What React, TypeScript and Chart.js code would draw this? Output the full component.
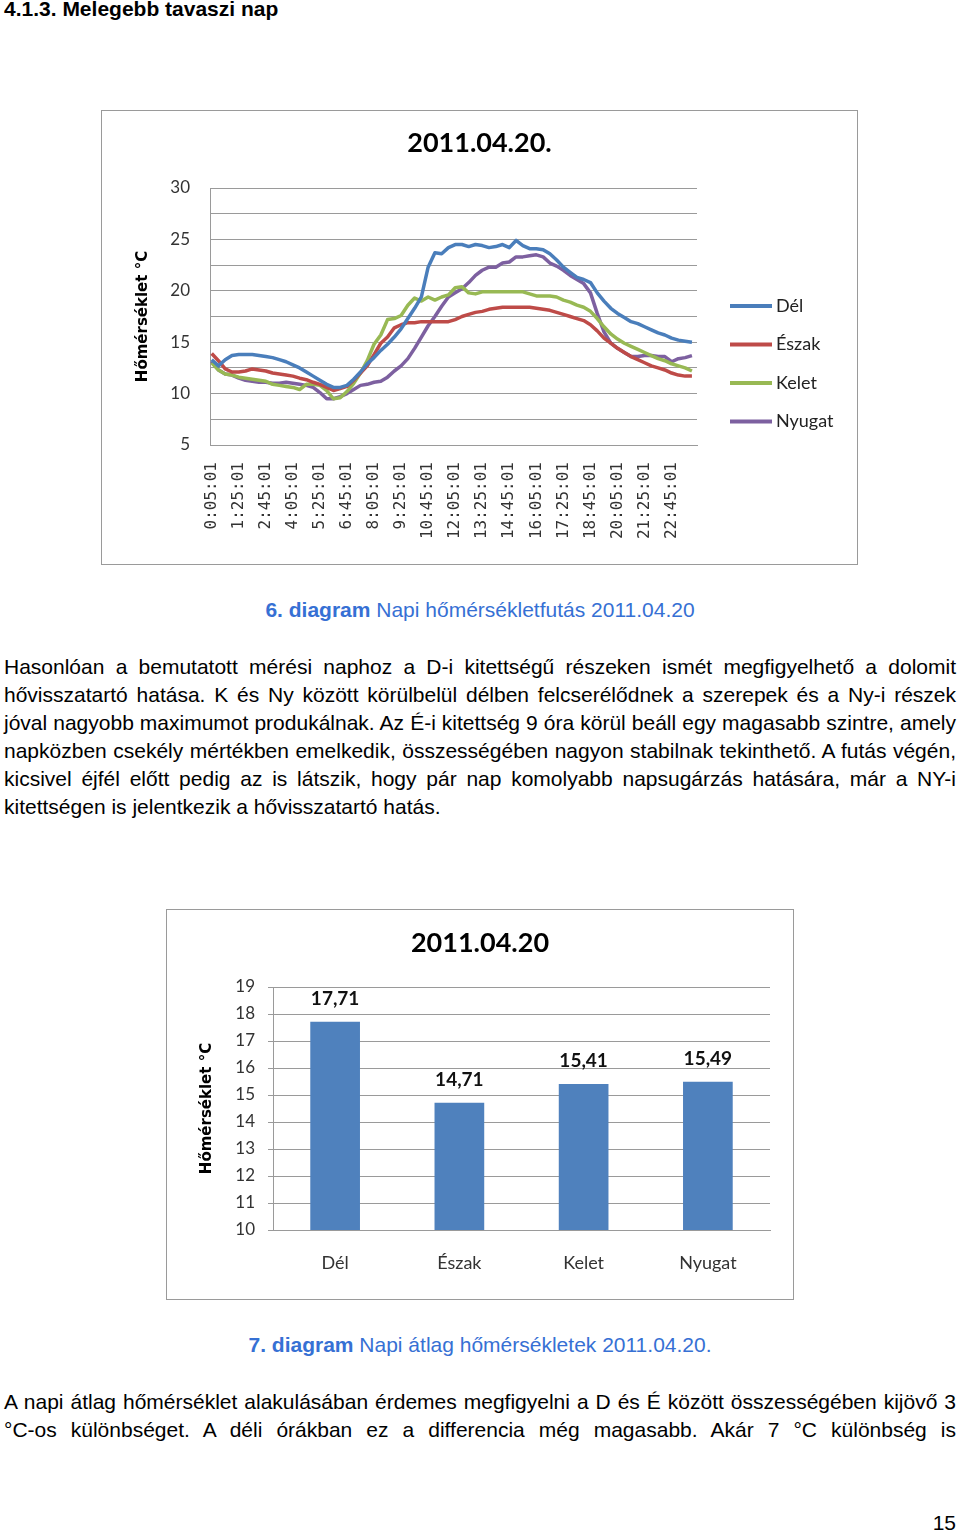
import React, { useEffect, useRef } from 'react';
import { Chart, registerables } from 'chart.js';

Chart.register(...registerables);

// ---------- 6. diagram: daily temperature run ----------
const lineSeriesNames = ['Dél', 'Észak', 'Kelet', 'Nyugat'];
const lineColors = ['#4A7EBB', '#BE4B48', '#98B954', '#7D60A0'];
const sampleStartMinute = 5;
const sampleStepMinutes = 20;

const delValues = [
  13.3, 12.7, 13.3, 13.7, 13.8, 13.8, 13.8, 13.7, 13.6, 13.5,
  13.3, 13.1, 12.8, 12.5, 12.1, 11.7, 11.3, 10.9, 10.6, 10.6,
  10.8, 11.4, 12.1, 12.9, 13.5, 14.2, 14.8, 15.5, 16.3, 17.3,
  18.3, 19.4, 22.3, 23.7, 23.6, 24.2, 24.5, 24.5, 24.3, 24.5,
  24.4, 24.2, 24.3, 24.5, 24.2, 24.9, 24.4, 24.1, 24.1, 24.0,
  23.6, 23.0, 22.3, 21.8, 21.3, 21.1, 20.8, 19.8, 19.0, 18.3,
  17.8, 17.4, 17.0, 16.8, 16.5, 16.2, 15.9, 15.7, 15.4, 15.2,
  15.1, 15.0,
];
const eszakValues = [
  13.9, 13.2, 12.4, 12.1, 12.1, 12.2, 12.4, 12.3, 12.2, 12.0,
  11.9, 11.8, 11.7, 11.5, 11.35, 11.1, 10.9, 10.6, 10.3, 10.5,
  10.7, 11.3, 12.0, 12.7, 13.8, 14.9, 15.5, 16.4, 16.7, 16.9,
  16.9, 17.0, 17.0, 17.0, 17.0, 17.0, 17.2, 17.5, 17.7, 17.9,
  18.0, 18.2, 18.3, 18.4, 18.4, 18.4, 18.4, 18.4, 18.3, 18.2,
  18.1, 17.9, 17.7, 17.5, 17.3, 17.1, 16.7, 16.1, 15.4, 14.9,
  14.4, 14.0, 13.6, 13.3, 13.0, 12.7, 12.5, 12.3, 12.0, 11.8,
  11.7, 11.7,
];
const keletValues = [
  13.0, 12.3, 11.9, 11.8, 11.6, 11.5, 11.4, 11.3, 11.2, 10.9,
  10.8, 10.7, 10.6, 10.4, 10.9, 10.9, 10.8, 10.3, 9.5, 9.6,
  10.2, 11.0, 12.0, 13.2, 14.8, 15.7, 17.2, 17.3, 17.6, 18.6,
  19.3, 19.0, 19.4, 19.1, 19.4, 19.6, 20.3, 20.4, 19.8, 19.7,
  19.9, 19.9, 19.9, 19.9, 19.9, 19.9, 19.9, 19.7, 19.5, 19.5,
  19.5, 19.4, 19.1, 18.9, 18.6, 18.4, 18.0, 17.3, 16.5, 15.8,
  15.3, 14.9, 14.6, 14.3, 14.0, 13.7, 13.4, 13.2, 12.9, 12.7,
  12.5, 12.2,
];
const nyugatValues = [
  13.1, 12.3, 11.9, 11.8, 11.5, 11.3, 11.2, 11.1, 11.1, 11.0,
  11.0, 11.1, 11.0, 10.9, 10.8, 10.6, 10.1, 9.5, 9.5, 9.7,
  10.0, 10.4, 10.8, 10.9, 11.1, 11.2, 11.6, 12.2, 12.7, 13.4,
  14.4, 15.5, 16.6, 17.5, 18.5, 19.4, 19.8, 20.2, 20.8, 21.5,
  22.0, 22.3, 22.3, 22.7, 22.8, 23.3, 23.3, 23.4, 23.5, 23.3,
  22.7, 22.4, 22.0, 21.5, 21.1, 20.7, 19.8, 17.8, 16.0, 14.9,
  14.4, 14.0, 13.6, 13.6, 13.7, 13.7, 13.6, 13.6, 13.1, 13.4,
  13.5, 13.7,
];
const lineSeriesValues = [delValues, eszakValues, keletValues, nyugatValues];

const xTickLabels = [
  '0:05:01', '1:25:01', '2:45:01', '4:05:01', '5:25:01', '6:45:01',
  '8:05:01', '9:25:01', '10:45:01', '12:05:01', '13:25:01', '14:45:01',
  '16:05:01', '17:25:01', '18:45:01', '20:05:01', '21:25:01', '22:45:01',
];
const yLineTickStep = 2.5;
const yLineLabelStep = 5;

// ---------- 7. diagram: daily averages ----------
const barCategories = ['Dél', 'Észak', 'Kelet', 'Nyugat'];
const barValues = [17.71, 14.71, 15.41, 15.49];
const barColor = '#4F81BD';

// ---------- page text ----------
const headingText = '4.1.3. Melegebb tavaszi nap';
const caption1Bold = '6. diagram';
const caption1Rest = ' Napi hőmérsékletfutás 2011.04.20';
const para1Lines = [
  'Hasonlóan a bemutatott mérési naphoz a D-i kitettségű részeken ismét megfigyelhető a dolomit',
  'hővisszatartó hatása. K és Ny között körülbelül délben felcserélődnek a szerepek és a Ny-i részek',
  'jóval nagyobb maximumot produkálnak. Az É-i kitettség 9 óra körül beáll egy magasabb szintre, amely',
  'napközben csekély mértékben emelkedik, összességében nagyon stabilnak tekinthető. A futás végén,',
  'kicsivel éjfél előtt pedig az is látszik, hogy pár nap komolyabb napsugárzás hatására, már a NY-i',
  'kitettségen is jelentkezik a hővisszatartó hatás.',
];
const caption2Bold = '7. diagram';
const caption2Rest = ' Napi átlag hőmérsékletek 2011.04.20.';
const para2Lines = [
  'A napi átlag hőmérséklet alakulásában érdemes megfigyelni a D és É között összességében kijövő 3',
  '°C-os különbséget. A déli órákban ez a differencia még magasabb. Akár 7 °C különbség is',
];
const pageNumber = '15';

const toMinutes = (label: string) => {
  const [h, m] = label.split(':').map(Number);
  return h * 60 + m;
};
const xTickMinutes = xTickLabels.map(toMinutes);

const GRID = '#9a9a9a';
const TEXT = '#333333';

const lineLegendPlugin = {
  id: 'lineLegend',
  afterDraw(chart: any) {
    const { ctx, chartArea } = chart;
    chart.data.datasets.forEach((ds: any, i: number) => {
      const y = chartArea.top + 118 + i * 38.5;
      const x0 = chartArea.right + 33;
      ctx.save();
      ctx.strokeStyle = ds.borderColor;
      ctx.lineWidth = 4;
      ctx.lineCap = 'butt';
      ctx.beginPath();
      ctx.moveTo(x0, y);
      ctx.lineTo(x0 + 42, y);
      ctx.stroke();
      ctx.fillStyle = '#222';
      ctx.font = '18px Lato';
      ctx.textBaseline = 'middle';
      ctx.textAlign = 'left';
      ctx.fillText(ds.label, x0 + 46, y);
      ctx.restore();
    });
  },
};

const barLabelPlugin = {
  id: 'barLabels',
  afterDatasetsDraw(chart: any) {
    const { ctx } = chart;
    const meta = chart.getDatasetMeta(0);
    const values = chart.data.datasets[0].data;
    ctx.save();
    ctx.fillStyle = '#111';
    ctx.font = 'bold 19px Lato';
    ctx.textAlign = 'center';
    ctx.textBaseline = 'middle';
    meta.data.forEach((bar: any, i: number) => {
      ctx.fillText(Number(values[i]).toFixed(2).replace('.', ','), bar.x, bar.y - 23);
    });
    ctx.restore();
  },
};

// an empty right-hand axis that only reserves room (for the legend) without shifting the title
const spacerAxis = (w: number) => ({
  type: 'linear',
  position: 'right',
  display: true,
  grid: { display: false, drawTicks: false },
  border: { display: false },
  ticks: { display: false },
  afterFit: (s: any) => {
    s.width = w;
  },
});

function LineChart() {
  const ref = useRef<HTMLCanvasElement>(null);
  useEffect(() => {
    if (!ref.current) return;
    const chart = new Chart(ref.current, {
      type: 'line',
      data: {
        datasets: lineSeriesNames.map((name, k) => ({
          label: name,
          data: lineSeriesValues[k].map((v, i) => ({ x: sampleStartMinute + i * sampleStepMinutes, y: v })),
          borderColor: lineColors[k],
          backgroundColor: lineColors[k],
          borderWidth: 3.5,
          pointRadius: 0,
          tension: 0,
          borderJoinStyle: 'round',
          fill: false,
          yAxisID: 'y',
        })),
      },
      options: {
        responsive: false,
        animation: false,
        layout: { padding: 0 },
        plugins: {
          legend: { display: false },
          tooltip: { enabled: false },
          title: {
            display: true,
            text: '2011.04.20.',
            color: '#000',
            font: { family: 'Lato', size: 27, weight: 'bold' },
            padding: { top: 16, bottom: 28.6 },
          },
        },
        scales: {
          x: {
            type: 'linear',
            min: 0,
            max: 1440,
            afterBuildTicks: (s: any) => {
              s.ticks = xTickMinutes.map((v) => ({ value: v }));
            },
            afterFit: (s: any) => {
              s.height = 119;
            },
            grid: { display: false, drawTicks: false },
            border: { display: true, color: GRID },
            ticks: {
              autoSkip: false,
              minRotation: 90,
              maxRotation: 90,
              padding: 17,
              color: TEXT,
              font: { family: 'DejaVu Sans Mono', size: 16 },
              callback: (_v: any, i: number) => xTickLabels[i],
            },
          },
          y: {
            min: 5,
            max: 30,
            afterFit: (s: any) => {
              s.width = 108;
            },
            grid: { color: GRID, drawTicks: false },
            border: { display: true, color: GRID },
            ticks: {
              stepSize: yLineTickStep,
              padding: 20,
              color: TEXT,
              font: { family: 'Lato', size: 17 },
              callback: (v: any) => (Number(v) % yLineLabelStep === 0 ? String(v) : ''),
            },
            title: {
              display: true,
              text: 'Hőmérséklet °C',
              color: '#000',
              font: { family: 'DejaVu Sans', size: 15, weight: 'bold' },
              padding: { top: 32, bottom: 0 },
            },
          },
          legendSpace: spacerAxis(160),
        },
      },
      plugins: [lineLegendPlugin],
    } as any);
    return () => chart.destroy();
  }, []);
  return <canvas ref={ref} width={755} height={453} style={{ display: 'block' }} />;
}

function BarChart() {
  const ref = useRef<HTMLCanvasElement>(null);
  useEffect(() => {
    if (!ref.current) return;
    const chart = new Chart(ref.current, {
      type: 'bar',
      data: {
        labels: barCategories,
        datasets: [
          {
            label: 'Átlag',
            data: barValues,
            backgroundColor: barColor,
            borderWidth: 0,
            barPercentage: 0.4,
            categoryPercentage: 1,
            yAxisID: 'y',
          },
        ],
      },
      options: {
        responsive: false,
        animation: false,
        layout: { padding: 0 },
        plugins: {
          legend: { display: false },
          tooltip: { enabled: false },
          title: {
            display: true,
            text: '2011.04.20',
            color: '#000',
            font: { family: 'Lato', size: 27, weight: 'bold' },
            padding: { top: 16.8, bottom: 27.8 },
          },
        },
        scales: {
          x: {
            afterFit: (s: any) => {
              s.height = 69;
            },
            grid: { display: false, drawTicks: false },
            border: { display: true, color: GRID },
            ticks: {
              padding: 22,
              color: TEXT,
              font: { family: 'Lato', size: 18 },
            },
          },
          y: {
            min: 10,
            max: 19,
            afterFit: (s: any) => {
              s.width = 106;
            },
            grid: { color: GRID, drawTicks: true, tickLength: 5 },
            border: { display: true, color: GRID },
            ticks: {
              stepSize: 1,
              padding: 13,
              color: TEXT,
              font: { family: 'Lato', size: 17 },
            },
            title: {
              display: true,
              text: 'Hőmérséklet °C',
              color: '#000',
              font: { family: 'DejaVu Sans', size: 15, weight: 'bold' },
              padding: { top: 31, bottom: 0 },
            },
          },
          rightSpace: spacerAxis(23),
        },
      },
      plugins: [barLabelPlugin],
    } as any);
    return () => chart.destroy();
  }, []);
  return <canvas ref={ref} width={626} height={389} style={{ display: 'block' }} />;
}

const FONT = '"Liberation Sans", Arial, sans-serif';
const CAPTION = '#3670d4';

function TextLine({ text, center, last }: { text: string; center: number; last?: boolean }) {
  return (
    <div
      style={{
        position: 'absolute',
        left: 4,
        width: 952,
        top: center - 12,
        height: 24,
        lineHeight: '24px',
        fontSize: 21,
        fontFamily: FONT,
        color: '#000',
        whiteSpace: 'nowrap',
        textAlign: last ? 'left' : 'justify',
        textAlignLast: last ? 'left' : 'justify',
      } as React.CSSProperties}
    >
      {text}
    </div>
  );
}

export default function App() {
  const para1Centers = [667, 695, 723, 751, 779, 807];
  const para2Centers = [1402, 1430];
  return (
    <div
      style={{
        position: 'absolute',
        left: 0,
        top: 0,
        width: 960,
        height: 1533,
        background: '#fff',
        overflow: 'hidden',
      }}
    >
      <div
        style={{
          position: 'absolute',
          left: 4,
          top: -3,
          lineHeight: '24px',
          fontSize: 21,
          fontWeight: 'bold',
          fontFamily: FONT,
          color: '#000',
          whiteSpace: 'nowrap',
        }}
      >
        {headingText}
      </div>

      <div
        style={{
          position: 'absolute',
          left: 101,
          top: 110,
          width: 757,
          height: 455,
          boxSizing: 'border-box',
          border: '1px solid #9a9a9a',
          background: '#fff',
        }}
      >
        <LineChart />
      </div>

      <div
        style={{
          position: 'absolute',
          left: 0,
          width: 960,
          top: 598,
          lineHeight: '24px',
          fontSize: 21,
          fontFamily: FONT,
          color: CAPTION,
          textAlign: 'center',
          whiteSpace: 'nowrap',
        }}
      >
        <b>{caption1Bold}</b>
        {caption1Rest}
      </div>

      {para1Lines.map((t, i) => (
        <TextLine key={'p1' + i} text={t} center={para1Centers[i]} last={i === para1Lines.length - 1} />
      ))}

      <div
        style={{
          position: 'absolute',
          left: 166,
          top: 909,
          width: 628,
          height: 391,
          boxSizing: 'border-box',
          border: '1px solid #9a9a9a',
          background: '#fff',
        }}
      >
        <BarChart />
      </div>

      <div
        style={{
          position: 'absolute',
          left: 0,
          width: 960,
          top: 1333,
          lineHeight: '24px',
          fontSize: 21,
          fontFamily: FONT,
          color: CAPTION,
          textAlign: 'center',
          whiteSpace: 'nowrap',
        }}
      >
        <b>{caption2Bold}</b>
        {caption2Rest}
      </div>

      {para2Lines.map((t, i) => (
        <TextLine key={'p2' + i} text={t} center={para2Centers[i]} />
      ))}

      <div
        style={{
          position: 'absolute',
          right: 4,
          top: 1511,
          lineHeight: '24px',
          fontSize: 21,
          fontFamily: FONT,
          color: '#000',
        }}
      >
        {pageNumber}
      </div>
    </div>
  );
}
